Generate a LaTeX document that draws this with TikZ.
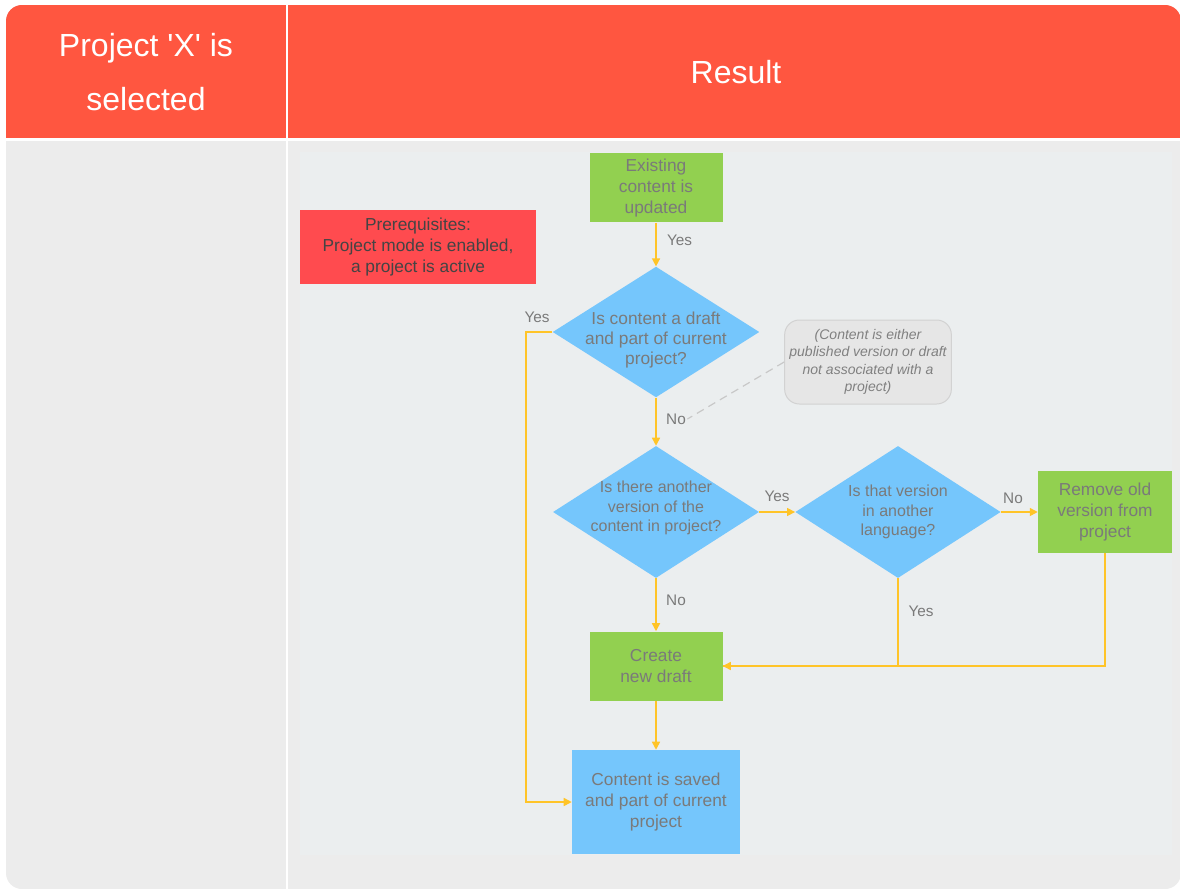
\documentclass[tikz,border=0pt]{standalone}
\usepackage{fontspec}
\setmainfont{Liberation Sans}
\font\quotefont="Liberation Sans" at 24pt
\usepackage{tikz}
\usetikzlibrary{arrows.meta,positioning,shapes.geometric}

\definecolor{hdrred}{RGB}{255,86,64}
\definecolor{bodygray}{RGB}{236,236,236}
\definecolor{innergray}{RGB}{235,238,239}
\definecolor{leafgreen}{RGB}{146,208,80}
\definecolor{askblue}{RGB}{117,198,252}
\definecolor{prereqred}{RGB}{255,75,79}
\definecolor{flowyellow}{RGB}{255,196,40}
\definecolor{textgray}{RGB}{122,122,122}
\definecolor{notefill}{RGB}{230,230,230}
\definecolor{noteline}{RGB}{210,210,210}

\begin{document}
\begin{tikzpicture}[
		x=0.75pt,y=-0.75pt,
		hdrtext/.style={text=white,align=center,font=\fontsize{24pt}{41pt}\selectfont},
		box/.style={fill=leafgreen,inner sep=0pt,minimum width=99.75pt,minimum height=51.75pt,align=center,text=textgray,font=\fontsize{13pt}{15.5pt}\selectfont},
		endbox/.style={box,fill=askblue,minimum width=126pt,minimum height=78pt},
		decision/.style={diamond,fill=askblue,inner sep=0pt,minimum width=154.5pt,minimum height=99pt},
		asktext/.style={align=center,text=textgray,font=\fontsize{12pt}{14.5pt}\selectfont},
		lbl/.style={text=textgray,inner sep=1pt,font=\fontsize{11.5pt}{13pt}\selectfont},
		arrow/.style={-{Triangle[length=6pt,width=6pt]},draw=flowyellow,line width=1.1pt},
		flowline/.style={draw=flowyellow,line width=1.1pt}
		]
		% page and table frame
		\useasboundingbox (0,0) rectangle (1180,891);
		\fill[white] (0,0) rectangle (1180,891);
		\begin{scope}
			\clip[rounded corners=12pt] (6,5) rectangle (1181,889);
			\fill[bodygray] (6,5) rectangle (1181,889);
			\fill[hdrred] (6,5) rectangle (1181,139);
		\end{scope}
		\draw[white,line width=2.25pt] (6,139.5) -- (1181,139.5);
		\draw[white,line width=1.5pt] (287,5) -- (287,889);
		\fill[innergray] (300,152) rectangle (1172,855);
		\node[hdrtext] (selhead) at (146,72) {Project {\quotefont'}X{\quotefont'} is\\selected};
		\node[hdrtext] (reshead) at (736,72) {Result};

		% flow nodes
		\node[box] (existing) at (656,188) {Existing\\content is\\updated};
		\node[box,fill=prereqred,minimum width=177pt,minimum height=54.75pt,text={rgb,255:red,68;green,68;blue,68}] (prereq) at (418,247) {Prerequisites:\\Project mode is enabled,\\a project is active};
		\node[decision,minimum width=155pt,minimum height=98pt,label={[asktext,font=\fontsize{13pt}{15pt}\selectfont,yshift=-6pt]center:Is content a draft\\and part of current\\project?}] (isdraft) at (656,332) {};
		\node[draw=noteline,line width=0.75pt,fill=notefill,rounded corners=11pt,minimum width=125pt,minimum height=63pt,inner sep=0pt,align=center,text={rgb,255:red,128;green,128;blue,128},font=\itshape\fontsize{10.5pt}{13pt}\selectfont] (note) at (868,362) {(Content is either\\published version or draft\\not associated with a\\project)};
		\node[decision,label={[asktext,yshift=3pt]center:Is there another\\version of the\\content in project?}] (another) at (656,512) {};
		\node[decision,minimum width=154pt,label={[asktext]center:Is that version\\in another\\language?}] (language) at (898,512) {};
		\node[box,minimum width=100.5pt,minimum height=61.5pt] (remove) at (1105,512) {Remove old\\version from\\project};
		\node[box] (create) at (656,666) {Create\\new draft};
		\node[endbox] (saved) at (656,802) {Content is saved\\and part of current\\project};

		% labels
		\node[lbl] (yesupd) at (679.5,240) {Yes};
		\node[lbl] (nodraft) at (676,419) {No};
		\node[lbl] (yesdraft) at (537,317) {Yes};
		\node[lbl] (yesother) at (777,496) {Yes};
		\node[lbl] (nolang) at (1013,498) {No};
		\node[lbl] (noother) at (676,600) {No};
		\node[lbl] (yeslang) at (921,611) {Yes};
		\coordinate (yesturn) at (526,332);

		% connectors
		\draw[arrow] (existing) -- (isdraft);
		\draw[arrow] (isdraft) -- (another);
		\draw[arrow] (isdraft.west) -- (yesturn) |- (saved.west);
		\draw[arrow] (another) -- (language);
		\draw[arrow] (language) -- (remove);
		\draw[arrow] (another) -- (create);
		\draw[flowline] (language.south) |- (create.east);
		\draw[arrow] (remove.south) |- (create.east);
		\draw[arrow] (create) -- (saved);
		\draw[draw={rgb,255:red,200;green,200;blue,200},line width=0.9pt,dash pattern=on 6pt off 4pt] (note.west) -- (nodraft.east);
	\end{tikzpicture}
\end{document}
